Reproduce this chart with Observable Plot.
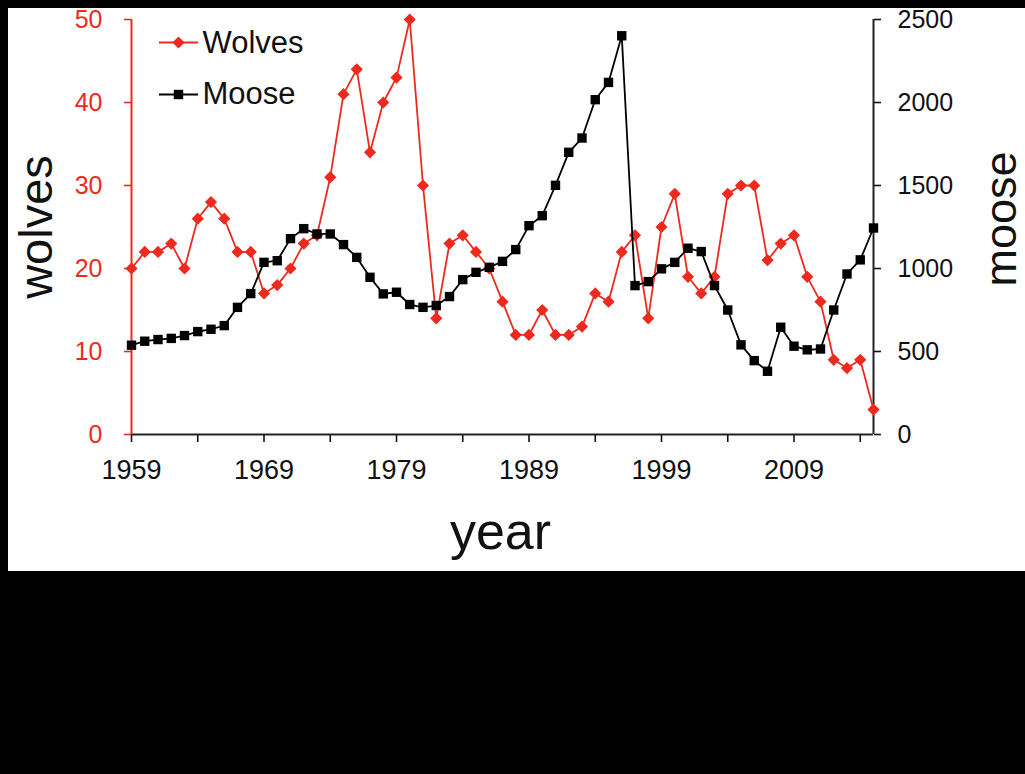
<!DOCTYPE html>
<html>
<head>
<meta charset="utf-8">
<script src="https://cdn.jsdelivr.net/npm/d3@7"></script>
<script src="https://cdn.jsdelivr.net/npm/@observablehq/plot@0.6"></script>
<style>
  html, body { margin: 0; padding: 0; background: #000; }
  body { width: 1025px; height: 774px; position: relative; overflow: hidden; }
  #panel { position: absolute; left: 8px; top: 8px; width: 1017px; height: 563px; background: #fff; }
</style>
</head>
<body>
<div id="panel"></div>
<script>
const years = [1959,1960,1961,1962,1963,1964,1965,1966,1967,1968,
               1969,1970,1971,1972,1973,1974,1975,1976,1977,1978,
               1979,1980,1981,1982,1983,1984,1985,1986,1987,1988,
               1989,1990,1991,1992,1993,1994,1995,1996,1997,1998,
               1999,2000,2001,2002,2003,2004,2005,2006,2007,2008,
               2009,2010,2011,2012,2013,2014,2015];
const wolves = [20,22,22,23,20,26,28,26,22,22,
                17,18,20,23,24,31,41,44,34,40,
                43,50,30,14,23,24,22,20,16,12,
                12,15,12,12,13,17,16,22,24,14,
                25,29,19,17,19,29,30,30,21,23,
                24,19,16,9,8,9,3];
const moose = [538,562,572,579,596,620,634,656,766,849,
               1037,1047,1180,1240,1208,1208,1144,1067,947,847,
               857,783,766,777,831,933,977,1007,1043,1114,
               1258,1318,1501,1700,1786,2017,2121,2402,897,921,
               998,1037,1122,1102,897,750,540,445,381,646,
               532,510,515,750,967,1052,1244];
const seriesNames = ["Wolves", "Moose"];
const wolfTicks = [0,10,20,30,40,50];
const mooseTicks = [0,500,1000,1500,2000,2500];
const xTicks = [1959,1964,1969,1974,1979,1984,1989,1994,1999,2004,2009,2014];
const xTickLabels = [1959,1969,1979,1989,1999,2009];

const RED = "#ee2a1f";
const BLACK = "#000";
const ratio = 2500 / 50; // moose per wolf-axis unit

const data = years.map((y, i) => ({year: y, wolves: wolves[i], moose: moose[i]}));

const lineSymbol = {draw(ctx) { ctx.moveTo(-19.5, 0); ctx.lineTo(19.5, 0); }};
const seriesStyle = {
  Wolves: {color: RED, symbol: "diamond2", r: 5.5},
  Moose: {color: BLACK, symbol: "square", r: 5.3}
};

const legendMarks = seriesNames.flatMap((name, i) => {
  const s = seriesStyle[name];
  return [
    Plot.dot([name], {frameAnchor: "top-left", dx: 47, dy: 23 + 52 * i, symbol: lineSymbol, stroke: s.color, strokeWidth: 2, fill: "none", r: 5}),
    Plot.dot([name], {frameAnchor: "top-left", dx: 47, dy: 23 + 52 * i, symbol: s.symbol, fill: s.color, stroke: "none", r: s.r}),
    Plot.text([name], {frameAnchor: "top-left", dx: 71, dy: 24 + 51 * i, text: d => d, textAnchor: "start", lineAnchor: "middle", fontSize: 31, fill: "#111"})
  ];
});

const chart = Plot.plot({
  width: 1017,
  height: 563,
  marginLeft: 123,
  marginRight: 152,
  marginTop: 11,
  marginBottom: 137,
  style: {background: "white", fontFamily: "'Liberation Sans', Arial, sans-serif", overflow: "visible"},
  x: {domain: [years[0], years[years.length - 1]]},
  y: {domain: [0, 50]},
  marks: [
    Plot.axisX({ticks: xTicks, tickFormat: d => xTickLabels.includes(d) ? String(d) : "", label: null,
      tickSize: 8, tickPadding: 17, fontSize: 27, color: "#111", strokeWidth: 1.6}),
    Plot.axisY({anchor: "left", ticks: wolfTicks, tickFormat: d => String(d), label: null,
      tickSize: 7, tickPadding: 22, fontSize: 25, color: RED, strokeWidth: 1.6}),
    Plot.axisY({anchor: "right", ticks: mooseTicks.map(v => v / ratio), tickFormat: d => String(Math.round(d * ratio)), label: null,
      tickSize: 7, tickPadding: 17, fontSize: 25, color: "#111", strokeWidth: 1.6}),
    Plot.ruleY([0], {stroke: "#222", strokeWidth: 2}),
    Plot.ruleX([years[0]], {stroke: RED, strokeWidth: 2}),
    Plot.ruleX([years[years.length - 1]], {stroke: "#222", strokeWidth: 2}),
    Plot.line(data, {x: "year", y: "wolves", stroke: RED, strokeWidth: 1.8}),
    Plot.dot(data, {x: "year", y: "wolves", symbol: "diamond2", fill: RED, r: 5.5}),
    Plot.line(data, {x: "year", y: d => d.moose / ratio, stroke: BLACK, strokeWidth: 1.8}),
    Plot.dot(data, {x: "year", y: d => d.moose / ratio, symbol: "square", fill: BLACK, r: 5.3}),
    Plot.text(["wolves"], {frameAnchor: "left", text: d => d, rotate: -90, dx: -95, fontSize: 47, lineAnchor: "middle", textAnchor: "middle", fill: "#111"}),
    Plot.text(["moose"], {frameAnchor: "right", text: d => d, rotate: -90, dx: 128, dy: -8, fontSize: 45, lineAnchor: "middle", textAnchor: "middle", fill: "#111"}),
    Plot.text(["year"], {frameAnchor: "bottom", text: d => d, dx: -2, dy: 98, fontSize: 52, lineAnchor: "middle", textAnchor: "middle", fill: "#111"}),
    ...legendMarks
  ]
});
document.getElementById("panel").appendChild(chart);
</script>
</body>
</html>
